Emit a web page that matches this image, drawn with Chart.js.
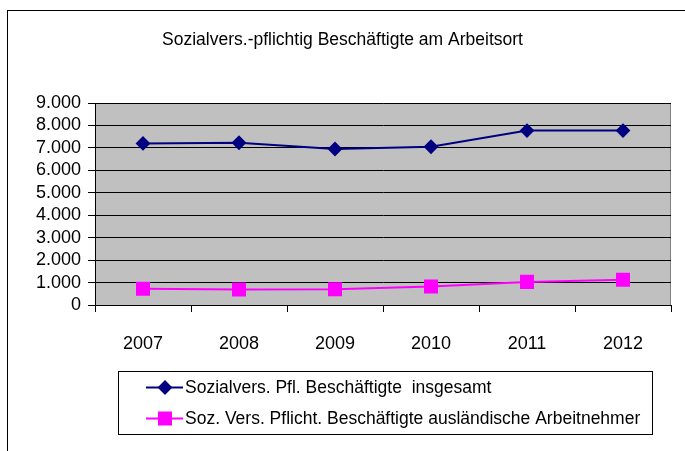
<!DOCTYPE html>
<html>
<head>
<meta charset="utf-8">
<script src="https://cdn.jsdelivr.net/npm/chart.js@4/dist/chart.umd.min.js"></script>
<style>
  html, body { margin: 0; padding: 0; background: #fff; }
  #wrap { width: 685px; height: 451px; }
</style>
</head>
<body>
<div id="wrap"><canvas id="chart" width="685" height="451"></canvas></div>
<script>
const years = ["2007", "2008", "2009", "2010", "2011", "2012"];
const gesamt = [7200, 7230, 6950, 7050, 7770, 7770];
const auslaender = [720, 690, 700, 820, 1030, 1130];
const yTicks = ["0", "1.000", "2.000", "3.000", "4.000", "5.000", "6.000", "7.000", "8.000", "9.000"];
const titleText = "Sozialvers.-pflichtig Beschäftigte am Arbeitsort";
const seriesNames = [
  "Sozialvers. Pfl. Beschäftigte  insgesamt",
  "Soz. Vers. Pflicht. Beschäftigte ausländische Arbeitnehmer"
];

Chart.defaults.font.family = "'Liberation Sans', Arial, sans-serif";
Chart.defaults.color = "#000";

// grey plot area + outer frame
const frame = {
  id: "frame",
  beforeDraw(chart) {
    const { ctx, chartArea: a } = chart;
    ctx.save();
    ctx.fillStyle = "#fff";
    ctx.fillRect(0, 0, chart.width, chart.height);
    ctx.strokeStyle = "#000";
    ctx.lineWidth = 1;
    ctx.strokeRect(7.5, 10.5, chart.width + 10, chart.height + 10);
    ctx.fillStyle = "#c0c0c0";
    ctx.fillRect(a.left, a.top, a.right - a.left, a.bottom - a.top);
    ctx.strokeStyle = "#808080";
    ctx.beginPath();
    ctx.moveTo(a.left, a.top + 0.5);
    ctx.lineTo(a.right - 0.5, a.top + 0.5);
    ctx.lineTo(a.right - 0.5, a.bottom);
    ctx.stroke();
    ctx.restore();
  }
};

// boxed legend, line + marker like the original
const boxLegend = {
  id: "boxLegend",
  afterDraw(chart) {
    const { ctx } = chart;
    const x0 = 118, y0 = 371, w = 534, h = 63;
    ctx.save();
    ctx.fillStyle = "#fff";
    ctx.fillRect(x0, y0, w, h);
    ctx.strokeStyle = "#000";
    ctx.lineWidth = 1;
    ctx.strokeRect(x0 + 0.5, y0 + 0.5, w, h);
    ctx.font = "17.5px 'Liberation Sans', Arial, sans-serif";
    ctx.textBaseline = "middle";
    chart.data.datasets.forEach((ds, i) => {
      const y = y0 + 16.5 + i * 31;
      ctx.strokeStyle = ds.borderColor;
      ctx.lineWidth = ds.borderWidth;
      ctx.beginPath();
      ctx.moveTo(x0 + 28, y);
      ctx.lineTo(x0 + 65, y);
      ctx.stroke();
      ctx.fillStyle = ds.pointBackgroundColor;
      ctx.strokeStyle = ds.pointBorderColor;
      Chart.helpers.drawPoint(ctx, {
        pointStyle: ds.pointStyle, radius: ds.pointRadius, rotation: 0, borderWidth: 1
      }, x0 + 47, y);
      ctx.fillStyle = "#000";
      ctx.fillText(seriesNames[i], x0 + 67, y + 1);
    });
    ctx.restore();
  }
};

new Chart(document.getElementById("chart"), {
  type: "line",
  data: {
    labels: years,
    datasets: [{
      label: seriesNames[0],
      data: gesamt,
      borderColor: "#000080",
      borderWidth: 2,
      pointStyle: "rectRot",
      pointRadius: 6,
      pointBackgroundColor: "#000080",
      pointBorderColor: "#000080",
      tension: 0
    }, {
      label: seriesNames[1],
      data: auslaender,
      borderColor: "#ff00ff",
      borderWidth: 2,
      pointStyle: "rect",
      pointRadius: 8.5,
      pointBackgroundColor: "#ff00ff",
      pointBorderColor: "#ff00ff",
      tension: 0
    }]
  },
  options: {
    responsive: false,
    animation: false,
    layout: { padding: { top: 30, right: 14, bottom: 96, left: 14 } },
    scales: {
      x: {
        offset: true,
        afterFit: (s) => { s.height = 50; },
        grid: { offset: true, drawOnChartArea: false, color: "#000", tickLength: 7 },
        border: { color: "#000", width: 1 },
        ticks: { font: { size: 18 }, padding: 21, maxRotation: 0, autoSkip: false }
      },
      y: {
        min: 0,
        max: 9000,
        afterFit: (s) => { s.width = 81; },
        grid: { color: "#000", tickLength: 7 },
        border: { color: "#000", width: 1 },
        ticks: {
          stepSize: 1000,
          autoSkip: false,
          font: { size: 18 },
          padding: 7,
          callback: (v) => yTicks[Math.round(v / 1000)]
        }
      }
    },
    plugins: {
      legend: { display: false },
      tooltip: { enabled: false },
      title: {
        display: true,
        text: titleText,
        font: { size: 17.5, weight: "normal", lineHeight: 1.2 },
        padding: { top: 0, bottom: 52 }
      }
    }
  },
  plugins: [frame, boxLegend]
});
</script>
</body>
</html>
